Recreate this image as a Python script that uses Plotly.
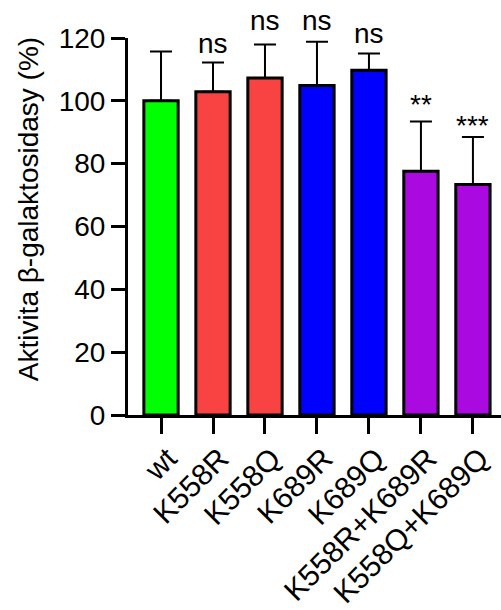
import plotly.graph_objects as go

categories = ["wt", "K558R", "K558Q", "K689R", "K689Q", "K558R+K689R", "K558Q+K689Q"]
values = [100.0, 102.9, 107.3, 104.9, 109.7, 77.6, 73.4]
err_plus = [15.7, 9.3, 10.6, 13.9, 5.4, 15.8, 15.1]
bar_colors = ["#00FF00", "#F94343", "#F94343", "#0000FF", "#0000FF", "#AA0ADF", "#AA0ADF"]
sig_labels = ["", "ns", "ns", "ns", "ns", "**", "***"]
sig_shift_px = [0, 1.5, 6.5, 3.5, 2, -0.7, -6.5]  # label offset above error-bar cap

FONT = "Arial, 'Liberation Sans', sans-serif"
FS = 28

fig = go.Figure()
fig.add_trace(go.Bar(
    x=list(range(len(categories))),
    y=values,
    width=0.66,
    marker=dict(color=bar_colors, line=dict(color="black", width=3)),
    error_y=dict(type="data", symmetric=False, array=err_plus,
                 arrayminus=[0] * len(values), color="black", thickness=2, width=11),
    showlegend=False,
))

annotations = []
for i, lab in enumerate(sig_labels):
    if not lab:
        continue
    annotations.append(dict(
        x=i, y=values[i] + err_plus[i], xref="x", yref="y", text=lab, showarrow=False,
        xanchor="center", yanchor="bottom", yshift=sig_shift_px[i],
        font=dict(family=FONT, size=FS, color="black"),
    ))

# y-axis title as rotated annotation
annotations.append(dict(
    x=(28 - 128) / 373, y=(415.5 - 209.5) / 377.5, xref="paper", yref="paper",
    text="Aktivita β-galaktosidasy (%)", showarrow=False, textangle=-90,
    xanchor="center", yanchor="middle",
    font=dict(family=FONT, size=FS, color="black"),
))

fig.update_layout(
    width=501, height=610,
    margin=dict(l=128, r=0, t=38, b=194.5, pad=0),
    paper_bgcolor="white", plot_bgcolor="white",
    font=dict(family=FONT, size=FS, color="black"),
    annotations=annotations,
)
fig.update_xaxes(
    range=[-0.635, 6.54], automargin=False,
    tickmode="array", tickvals=list(range(len(categories))), ticktext=categories,
    tickangle=-45, ticklabelshift=7, ticklabelstandoff=-5,
    showline=True, linecolor="black", linewidth=3,
    ticks="outside", ticklen=16, tickwidth=3, tickcolor="black",
    showgrid=False, zeroline=False,
    tickfont=dict(family=FONT, size=30, color="black"),
)
fig.update_yaxes(
    range=[0, 120], automargin=False,
    tickvals=[0, 20, 40, 60, 80, 100, 120],
    showline=True, linecolor="black", linewidth=3,
    ticks="outside", ticklen=14, tickwidth=3, tickcolor="black",
    showgrid=False, zeroline=False,
    tickfont=dict(family=FONT, size=FS, color="black"),
)

fig.write_html("out.html")
